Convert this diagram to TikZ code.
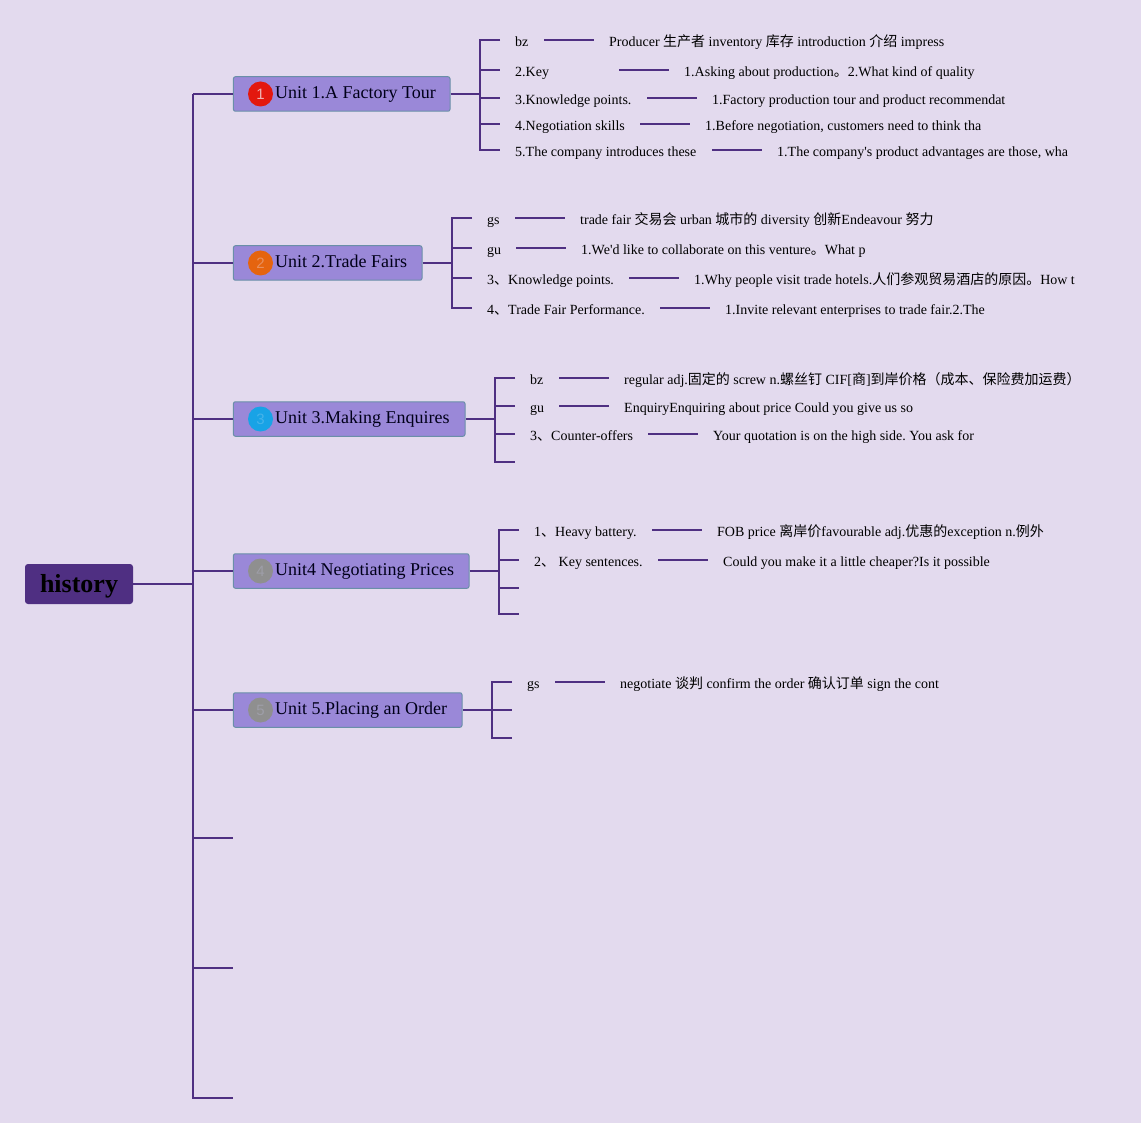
\documentclass[tikz,border=0pt]{standalone}
\usepackage{fontspec}
\setmainfont{Liberation Serif}[Ligatures=TeXOff]
\setsansfont{Liberation Sans}
\newfontfamily\zhfont{Noto Sans CJK SC}
\newcommand\zh[1]{{\zhfont #1}}
\frenchspacing
\definecolor{bgc}{HTML}{E3DAEE}
\definecolor{linkc}{HTML}{4F2F82}
\definecolor{unitc}{HTML}{9A88D8}
\definecolor{unitb}{HTML}{6A8FA8}
\definecolor{badgea}{HTML}{E3180E}
\definecolor{digita}{HTML}{EFB0B0}
\definecolor{badgeb}{HTML}{E5640F}
\definecolor{digitb}{HTML}{E9905E}
\definecolor{badgec}{HTML}{18A3E6}
\definecolor{digitc}{HTML}{45B3EA}
\definecolor{badged}{HTML}{8F8F8F}
\definecolor{digitd}{HTML}{9E9EA8}
\tikzset{
  link/.style={draw=linkc,line width=2pt,line join=miter},
  rootbox/.style={fill=linkc,rounded corners=3pt,inner sep=0pt,minimum width=108pt,minimum height=40pt,text height=20pt,text depth=4pt,text=black,font=\fontsize{26}{30}\selectfont\bfseries},
  unitbox/.style={fill=unitc,draw=unitb,line width=1pt,rounded corners=2pt,inner sep=0pt,minimum height=34.5pt,anchor=west},
  unittext/.style={inner sep=0pt,anchor=base west,text=black!90!blue,font=\fontsize{18}{22}\selectfont},
  badge/.style={circle,inner sep=0pt,minimum size=25pt,font=\sffamily\fontsize{15}{15}\selectfont},
  rowtext/.style={inner sep=0pt,anchor=west,text height=14pt,text depth=0.8pt,text=black,font=\fontsize{14}{16}\selectfont},
}
% \rowitem{id}{label x}{y}{line start}{line end}{label}{detail}
\newcommand\rowitem[7]{%
  \node[rowtext] (l#1) at (#2,#3) {\makebox[\dimexpr #4pt-#2pt\relax][l]{#6}};
  \node[rowtext] (d#1) at (#5+15,#3) {#7};
  \draw[link] (l#1.east) -- ([xshift=-15pt]d#1.west);
}
\newcommand\unitbox[7]{% id, width, y, circle colour, digit colour, digit, text
  \node[unitbox,minimum width=#2pt] (u#1) at (232.9,#3) {};
  \node[badge,fill=#4,text=#5] (c#1) at (260.5,#3) {#6};
  \node[unittext] (t#1) at (275,#3+4.4) {#7};
  \draw[link] (trunk |- u#1.west) -- (u#1.west);
}
\begin{document}
\begin{tikzpicture}[x=1pt,y=-1pt]
\fill[bgc] (0,0) rectangle (1141,1123);
\useasboundingbox (0,0) rectangle (1141,1123);
\coordinate (trunk) at (193,584);
\node[rootbox] (root) at (79,584) {history};
\draw[link] (root.east) -- (trunk);
\coordinate (s6) at (233,838);
\coordinate (s7) at (233,968);
\coordinate (s8) at (233,1098);
\draw[link] (trunk |- 0,94) -- (trunk |- s8) -- (s8);
\draw[link] (trunk |- s6) -- (s6);
\draw[link] (trunk |- s7) -- (s7);

\unitbox{1}{216.6}{94}{badgea}{digita}{1}{Unit 1.A Factory Tour}
\unitbox{2}{188.6}{263}{badgeb}{digitb}{2}{Unit 2.Trade Fairs}
\unitbox{3}{231.6}{419}{badgec}{digitc}{3}{Unit 3.Making Enquires}
\unitbox{4}{235.6}{571}{badged}{digitd}{4}{Unit4 Negotiating Prices}
\unitbox{5}{228.6}{710}{badged}{digitd}{5}{Unit 5.Placing an Order}

% Unit 1
\rowitem{a1}{515}{40}{544}{594}{bz}{Producer \zh{生产者} inventory \zh{库存} introduction \zh{介绍} impress}
\rowitem{a2}{515}{70}{619}{669}{2.Key}{1.Asking about production\zh{。}2.What kind of quality}
\rowitem{a3}{515}{98}{647}{697}{3.Knowledge points.}{1.Factory production tour and product recommendat}
\rowitem{a4}{515}{124}{640}{690}{4.Negotiation skills}{1.Before negotiation, customers need to think tha}
\rowitem{a5}{515}{150}{712}{762}{5.The company introduces these}{1.The company's product advantages are those, wha}
\coordinate (b1) at (480,94);
\draw[link] (u1.east) -- (b1);
\draw[link] ([xshift=-15pt]la1.west) -- (b1 |- la1.west) -- (b1 |- la5.west) -- ([xshift=-15pt]la5.west);
\foreach \n in {a2,a3,a4} \draw[link] (b1 |- l\n.west) -- ([xshift=-15pt]l\n.west);

% Unit 2
\rowitem{b1}{487}{218}{515}{565}{gs}{trade fair \zh{交易会} urban \zh{城市的} diversity \zh{创新}Endeavour \zh{努力}}
\rowitem{b2}{487}{248}{516}{566}{gu}{1.We'd like to collaborate on this venture\zh{。}What p}
\rowitem{b3}{487}{278}{629}{679}{3\zh{、}Knowledge points.}{1.Why people visit trade hotels.\zh{人们参观贸易酒店的原因。}How t}
\rowitem{b4}{487}{308}{660}{710}{4\zh{、}Trade Fair Performance.}{1.Invite relevant enterprises to trade fair.2.The}
\coordinate (b2) at (452,263);
\draw[link] (u2.east) -- (b2);
\draw[link] ([xshift=-15pt]lb1.west) -- (b2 |- lb1.west) -- (b2 |- lb4.west) -- ([xshift=-15pt]lb4.west);
\foreach \n in {b2,b3} \draw[link] (b2 |- l\n.west) -- ([xshift=-15pt]l\n.west);

% Unit 3
\rowitem{c1}{530}{378}{559}{609}{bz}{regular adj.\zh{固定的} screw n.\zh{螺丝钉} CIF[\zh{商}]\zh{到岸价格（成本、保险费加运费）}}
\rowitem{c2}{530}{406}{559}{609}{gu}{EnquiryEnquiring about price Could you give us so}
\rowitem{c3}{530}{434}{648}{698}{3\zh{、}Counter-offers}{Your quotation is on the high side. You ask for}
\coordinate (b3) at (495,419);
\coordinate (e3) at (515,462);
\draw[link] (u3.east) -- (b3);
\draw[link] ([xshift=-15pt]lc1.west) -- (b3 |- lc1.west) -- (b3 |- e3) -- (e3);
\foreach \n in {c2,c3} \draw[link] (b3 |- l\n.west) -- ([xshift=-15pt]l\n.west);

% Unit 4
\rowitem{e1}{534}{530}{652}{702}{1\zh{、}Heavy battery.}{FOB price \zh{离岸价}favourable adj.\zh{优惠的}exception n.\zh{例外}}
\rowitem{e2}{534}{560}{658}{708}{2\zh{、} Key sentences.}{Could you make it a little cheaper?Is it possible}
\coordinate (b4) at (499,571);
\coordinate (e4a) at (519,588);
\coordinate (e4b) at (519,614);
\draw[link] (u4.east) -- (b4);
\draw[link] ([xshift=-15pt]le1.west) -- (b4 |- le1.west) -- (b4 |- e4b) -- (e4b);
\draw[link] (b4 |- le2.west) -- ([xshift=-15pt]le2.west);
\draw[link] (b4 |- e4a) -- (e4a);

% Unit 5
\rowitem{f1}{527}{682}{555}{605}{gs}{negotiate \zh{谈判} confirm the order \zh{确认订单} sign the cont}
\coordinate (b5) at (492,710);
\coordinate (e5a) at (512,710);
\coordinate (e5b) at (512,738);
\draw[link] (u5.east) -- (e5a);
\draw[link] ([xshift=-15pt]lf1.west) -- (b5 |- lf1.west) -- (b5 |- e5b) -- (e5b);
\end{tikzpicture}
\end{document}
